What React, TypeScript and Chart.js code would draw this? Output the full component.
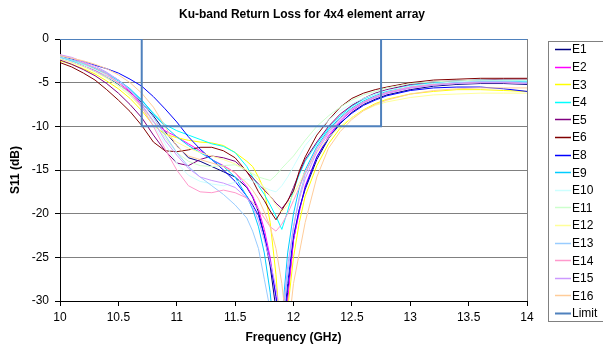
import React, { useEffect, useRef } from "react";
import { Chart, registerables } from "chart.js";
Chart.register(...registerables);

const freq = [10, 10.1, 10.2, 10.3, 10.4, 10.5, 10.6, 10.7, 10.8, 10.9, 11.0, 11.1, 11.2, 11.3, 11.4, 11.5, 11.6, 11.65, 11.7, 11.75, 11.8, 11.85, 11.9, 11.95, 12.0, 12.05, 12.1, 12.2, 12.3, 12.4, 12.5, 12.6, 12.7, 12.8, 13.0, 13.2, 13.4, 13.6, 13.8, 14.0];

const E1 = [-2.2, -2.6, -3.1, -3.7, -4.4, -5.2, -6.1, -7.3, -8.8, -10.6, -12.2, -13.6, -14.0, -14.6, -15.2, -15.8, -17.0, -18.1, -19.8, -22.5, -26.0, -31.0, -36.0, -29.0, -23.0, -19.5, -17.2, -13.8, -11.4, -9.7, -8.4, -7.5, -6.9, -6.4, -5.8, -5.4, -5.2, -5.1, -5.1, -5.2];
const E2 = [-2.3, -2.6, -3.1, -3.6, -4.2, -5.0, -6.0, -7.6, -9.5, -10.5, -11.2, -12.0, -12.8, -13.8, -14.5, -15.3, -16.9, -18.0, -19.5, -21.8, -25.0, -29.5, -35.0, -30.0, -23.0, -19.8, -16.8, -13.5, -11.1, -9.4, -8.2, -7.3, -6.7, -6.2, -5.6, -5.2, -5.0, -4.9, -4.9, -5.0];
const E3 = [-2.5, -2.9, -3.4, -4.0, -4.8, -5.7, -6.8, -8.2, -9.9, -10.9, -11.3, -11.6, -11.8, -11.9, -12.2, -13.0, -14.0, -14.6, -15.8, -17.3, -21.0, -27.0, -36.0, -31.0, -25.0, -21.0, -18.0, -14.5, -12.0, -10.2, -9.0, -8.1, -7.4, -6.9, -6.3, -6.0, -5.8, -5.8, -5.9, -6.0];
const E4 = [-2.2, -2.5, -2.9, -3.4, -4.0, -4.8, -5.8, -7.0, -8.5, -9.8, -10.5, -11.0, -11.5, -12.0, -12.3, -13.0, -14.6, -15.8, -16.8, -17.8, -19.0, -20.3, -21.8, -19.7, -17.3, -15.5, -14.0, -12.0, -10.2, -8.8, -7.7, -6.9, -6.3, -5.9, -5.3, -5.0, -4.8, -4.7, -4.7, -4.8];
const E5 = [-2.4, -2.9, -3.5, -4.2, -5.1, -6.2, -7.5, -9.0, -11.0, -12.8, -14.2, -14.5, -13.8, -13.4, -13.6, -14.0, -15.2, -15.9, -16.6, -17.3, -18.0, -18.8, -19.4, -18.6, -17.0, -15.3, -13.8, -11.8, -10.0, -8.6, -7.6, -6.8, -6.2, -5.8, -5.2, -4.9, -4.8, -4.7, -4.6, -4.6];
const E6 = [-2.7, -3.2, -3.9, -4.7, -5.8, -7.0, -8.3, -9.9, -11.8, -12.8, -12.9, -12.7, -12.4, -12.4, -12.8, -13.6, -15.2, -16.2, -17.5, -18.5, -19.7, -20.7, -19.6, -18.5, -17.4, -15.1, -13.5, -11.0, -9.3, -7.8, -6.8, -6.2, -5.8, -5.5, -5.0, -4.7, -4.6, -4.5, -4.5, -4.5];
const E8 = [-2.0, -2.3, -2.6, -3.0, -3.4, -3.9, -4.6, -5.4, -6.6, -8.0, -9.5, -11.2, -12.6, -13.8, -15.0, -16.3, -18.0, -19.0, -20.2, -22.5, -25.5, -29.5, -35.0, -28.0, -22.5, -19.5, -17.0, -13.5, -11.3, -9.6, -8.5, -7.6, -7.0, -6.5, -5.9, -5.6, -5.5, -5.5, -5.7, -6.0];
const E9 = [-2.1, -2.4, -2.8, -3.3, -3.9, -4.7, -5.7, -7.0, -8.6, -10.0, -11.2, -12.2, -13.0, -13.8, -14.6, -15.8, -18.0, -19.5, -21.5, -24.5, -29.0, -36.0, -32.0, -24.5, -20.0, -17.0, -15.0, -12.3, -10.4, -9.0, -7.9, -7.1, -6.5, -6.0, -5.4, -5.1, -4.9, -4.8, -4.8, -4.9];
const E10 = [-2.2, -2.6, -3.1, -3.7, -4.4, -5.3, -6.4, -7.8, -9.8, -12.0, -14.2, -15.6, -16.3, -16.6, -16.8, -16.4, -16.0, -16.3, -16.7, -17.0, -17.3, -17.5, -16.8, -15.8, -14.6, -13.4, -12.2, -10.6, -9.3, -8.2, -7.4, -6.8, -6.3, -5.9, -5.4, -5.1, -4.9, -4.8, -4.8, -4.8];
const E11 = [-2.0, -2.4, -2.9, -3.5, -4.2, -5.1, -6.3, -7.7, -9.5, -11.3, -13.0, -14.0, -14.5, -14.6, -14.5, -14.4, -15.0, -15.4, -15.8, -16.0, -16.2, -15.6, -14.8, -14.1, -13.4, -12.5, -11.6, -10.0, -8.8, -7.8, -7.0, -6.4, -6.0, -5.6, -5.1, -4.9, -4.8, -4.7, -4.7, -4.7];
const E12 = [-2.3, -2.7, -3.2, -3.8, -4.5, -5.4, -6.5, -7.9, -9.4, -10.8, -11.8, -12.5, -13.0, -13.4, -13.8, -14.3, -15.0, -15.5, -16.2, -17.0, -18.0, -19.0, -19.8, -19.0, -17.8, -16.5, -15.2, -13.0, -11.3, -10.0, -9.0, -8.2, -7.6, -7.2, -6.7, -6.4, -6.3, -6.2, -6.2, -6.2];
const E13 = [-2.1, -2.4, -2.8, -3.3, -3.9, -4.7, -5.8, -7.2, -9.0, -11.0, -13.0, -14.6, -15.8, -16.8, -17.8, -19.0, -20.5, -22.0, -24.0, -27.5, -31.0, -36.0, -33.0, -27.0, -21.5, -18.0, -15.5, -12.5, -10.6, -9.1, -8.0, -7.2, -6.6, -6.1, -5.5, -5.2, -5.0, -4.9, -4.9, -5.0];
const E14 = [-1.8, -2.2, -2.7, -3.3, -4.0, -5.0, -6.2, -7.8, -10.0, -12.6, -15.0, -16.8, -17.5, -17.6, -17.3, -17.6, -18.2, -18.7, -19.5, -20.5, -21.5, -22.0, -21.2, -20.0, -18.5, -17.0, -15.3, -12.6, -10.6, -9.1, -8.0, -7.2, -6.6, -6.1, -5.5, -5.2, -5.1, -5.0, -5.0, -5.1];
const E15 = [-1.8, -2.1, -2.6, -3.1, -3.8, -4.7, -5.9, -7.5, -9.4, -11.6, -13.3, -14.8, -15.8, -16.2, -16.5, -17.0, -18.2, -19.2, -20.8, -23.0, -25.5, -28.5, -33.0, -26.0, -21.5, -18.3, -16.0, -12.9, -10.8, -9.3, -8.1, -7.3, -6.7, -6.2, -5.6, -5.3, -5.1, -5.0, -5.0, -5.1];
const E16 = [-1.9, -2.2, -2.5, -2.9, -3.4, -4.1, -5.0, -6.2, -7.8, -10.0, -12.3, -13.4, -13.8, -14.2, -14.6, -15.3, -16.5, -17.3, -18.3, -19.8, -21.5, -24.0, -28.0, -34.0, -28.0, -24.5, -21.0, -15.8, -12.5, -10.6, -9.2, -8.2, -7.5, -7.0, -6.3, -5.9, -5.7, -5.6, -5.6, -5.6];

const limitFreq = [10, 10.7, 10.7, 12.75, 12.75, 14];
const limitVals = [0, 0, -10, -10, 0, 0];

const seriesNames = ["E1", "E2", "E3", "E4", "E5", "E6", "E8", "E9", "E10", "E11", "E12", "E13", "E14", "E15", "E16"];
const seriesValues = [E1, E2, E3, E4, E5, E6, E8, E9, E10, E11, E12, E13, E14, E15, E16];
const seriesColors = ["#000080", "#FF00FF", "#FFFF00", "#00FFFF", "#800080", "#800000", "#0000FF", "#00CCFF", "#CCFFFF", "#CCFFCC", "#FFFF99", "#99CCFF", "#FF99CC", "#CC99FF", "#FFCC99"];
const limitColor = "#4F81BD";

const TITLE = "Ku-band Return Loss for 4x4 element array";
const FONT = "'Liberation Sans', Arial, sans-serif";

export default function App() {
  const ref = useRef<HTMLCanvasElement>(null);
  useEffect(() => {
    document.body.style.margin = "0";
    const canvas = ref.current!;
    const datasets: any[] = seriesValues.map((vals, i) => ({
      label: seriesNames[i],
      data: freq.map((x, j) => ({ x, y: vals[j] })),
      borderColor: seriesColors[i],
      backgroundColor: seriesColors[i],
      borderWidth: 1,
      pointRadius: 0,
      showLine: true,
      tension: 0,
      order: 20 - i,
    }));
    datasets.push({
      label: "Limit",
      data: limitFreq.map((x, j) => ({ x, y: limitVals[j] })),
      borderColor: limitColor,
      backgroundColor: limitColor,
      borderWidth: 2,
      pointRadius: 0,
      showLine: true,
      tension: 0,
      order: 0,
    });

    const decor = {
      id: "decor",
      beforeDatasetsDraw(chart: any) {
        const { ctx, chartArea } = chart;
        ctx.save();
        ctx.strokeStyle = "#808080";
        ctx.lineWidth = 1;
        ctx.beginPath();
        ctx.moveTo(Math.round(chartArea.right) + 0.5, chartArea.top);
        ctx.lineTo(Math.round(chartArea.right) + 0.5, chartArea.bottom);
        ctx.stroke();
        ctx.restore();
      },
      afterDraw(chart: any) {
        const { ctx } = chart;
        ctx.save();
        ctx.fillStyle = "#000";
        ctx.font = `bold 12px ${FONT}`;
        ctx.textAlign = "center";
        ctx.textBaseline = "middle";
        ctx.fillText(TITLE, 302, 15);
        // legend
        const bx = 548.5, by = 41.5, bw = 60, bh = 280;
        ctx.strokeStyle = "#808080";
        ctx.lineWidth = 1;
        ctx.strokeRect(bx, by, bw, bh);
        const names = [...seriesNames, "Limit"];
        const colors = [...seriesColors, limitColor];
        ctx.font = `12px ${FONT}`;
        ctx.textAlign = "left";
        names.forEach((n, i) => {
          const y = 49 + i * 17.6;
          ctx.strokeStyle = colors[i];
          ctx.lineWidth = i === names.length - 1 ? 2 : 1.5;
          ctx.beginPath();
          ctx.moveTo(555, Math.round(y) + 0.5);
          ctx.lineTo(571, Math.round(y) + 0.5);
          ctx.stroke();
          ctx.fillStyle = "#000";
          ctx.fillText(n, 572, y + 1);
        });
        ctx.restore();
      },
    };

    const chart = new Chart(canvas, {
      type: "scatter",
      data: { datasets },
      plugins: [decor],
      options: {
        animation: false,
        responsive: false,
        devicePixelRatio: 1,
        layout: { padding: { top: 39, right: 76, left: 8, bottom: 0 } },
        plugins: { legend: { display: false }, tooltip: { enabled: false }, title: { display: false } },
        scales: {
          x: {
            type: "linear",
            min: 10,
            max: 14,
            afterFit: (s: any) => { s.height = 50; },
            ticks: {
              stepSize: 0.5,
              color: "#000",
              font: { family: FONT, size: 12 },
              padding: 4,
              maxRotation: 0,
              callback: (v: any) => String(v),
            },
            grid: { drawOnChartArea: false, drawTicks: true, tickLength: 5, color: "#000" },
            border: { color: "#000", width: 1 },
            title: { display: true, text: "Frequency (GHz)", color: "#000", font: { family: FONT, size: 12, weight: "bold" }, padding: { top: 0, bottom: 6 } },
          },
          y: {
            type: "linear",
            min: -30,
            max: 0,
            afterFit: (s: any) => { s.width = 52; },
            ticks: { stepSize: 5, color: "#000", font: { family: FONT, size: 12 }, padding: 6 },
            grid: { color: "#808080", lineWidth: 1, tickLength: 5, tickColor: "#000" },
            border: { color: "#000", width: 1 },
            title: { display: true, text: "S11 (dB)", color: "#000", font: { family: FONT, size: 12, weight: "bold" }, padding: { top: 0, bottom: 0 } },
          },
        },
      },
    });
    return () => chart.destroy();
  }, []);
  return (
    <div style={{ position: "absolute", left: 0, top: 0 }}>
      <canvas ref={ref} width={603} height={351} style={{ display: "block" }} />
    </div>
  );
}
